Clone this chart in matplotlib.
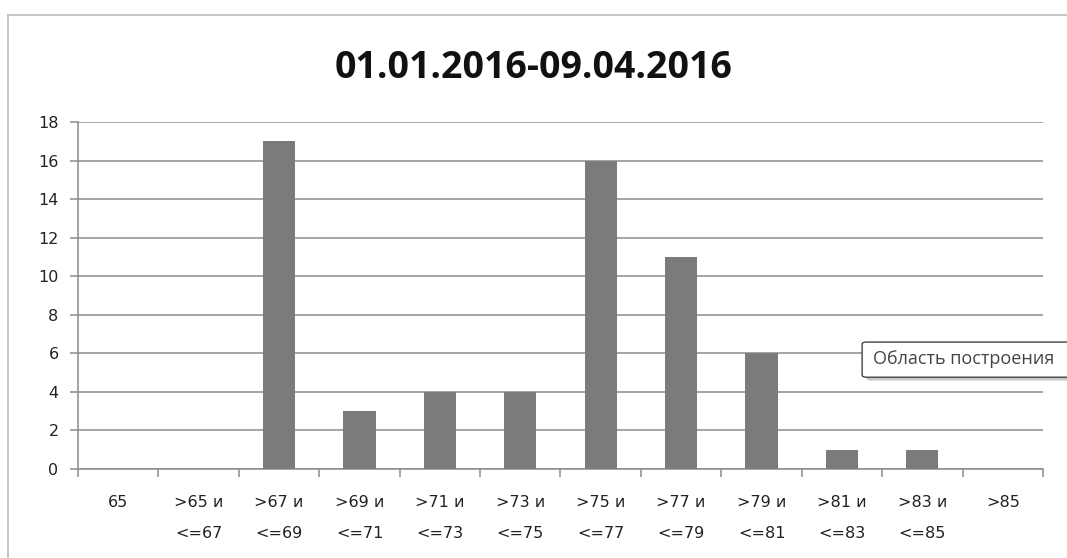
import matplotlib.pyplot as plt
import matplotlib.patches as mpatches
import numpy as np

# data
categories = ["65", ">65 и\n<=67", ">67 и\n<=69", ">69 и\n<=71", ">71 и\n<=73",
              ">73 и\n<=75", ">75 и\n<=77", ">77 и\n<=79", ">79 и\n<=81",
              ">81 и\n<=83", ">83 и\n<=85", ">85"]
counts = [0, 0, 17, 3, 4, 4, 16, 11, 6, 1, 1, 0]
title = "01.01.2016-09.04.2016"

grid_col = "#8c8c8c"

fig = plt.figure(figsize=(10.67, 5.58), dpi=100)
ax = fig.add_axes([0.0731, 0.1595, 0.9044, 0.6219])

x = np.arange(len(categories))
ax.bar(x, counts, width=0.4, color="#7b7b7b", zorder=3)

ax.set_xlim(-0.5, len(categories) - 0.5)
ax.set_ylim(0, 18)
ax.set_yticks(range(0, 19, 2))
ax.yaxis.grid(True, color=grid_col, linewidth=1.1, zorder=0)

ax.set_xticks(x)
ax.set_xticklabels(categories, fontsize=11.5, family="DejaVu Sans",
                   linespacing=2.3, color="#222222")
ax.set_xticks(np.arange(-0.5, len(categories)), minor=True)
ax.tick_params(axis="x", which="major", length=0, pad=19)
ax.tick_params(axis="x", which="minor", length=6, color=grid_col, width=1.1)
ax.tick_params(axis="y", length=6, color=grid_col, width=1.1, pad=8,
               labelsize=11.5, labelcolor="#222222")

for s in ["top", "right"]:
    ax.spines[s].set_visible(False)
for s in ["left", "bottom"]:
    ax.spines[s].set_color(grid_col)
    ax.spines[s].set_linewidth(1.1)

fig.text(0.5, 0.878, title, ha="center", va="center", fontsize=27,
         fontweight="bold", family="Open Sans", color="#111111")

# outer chart frame
fig.add_artist(plt.Line2D([0.0075, 1.0], [0.973, 0.973], color="#bdbdbd",
                          linewidth=1.2, transform=fig.transFigure))
fig.add_artist(plt.Line2D([0.0075, 0.0075], [0.0, 0.973], color="#bdbdbd",
                          linewidth=1.2, transform=fig.transFigure))

# tooltip box
shadow = mpatches.FancyBboxPatch((0.812, 0.318), 0.2, 0.06,
                                 boxstyle="round,pad=0,rounding_size=0.004",
                                 transform=fig.transFigure, facecolor="#c8c8c8",
                                 edgecolor="none", zorder=5)
box = mpatches.FancyBboxPatch((0.808, 0.324), 0.2, 0.063,
                              boxstyle="round,pad=0,rounding_size=0.004",
                              transform=fig.transFigure, facecolor="white",
                              edgecolor="#444444", linewidth=1, zorder=6)
fig.add_artist(shadow)
fig.add_artist(box)
fig.text(0.818, 0.356, "Область построения", fontsize=13, family="Open Sans",
         color="#444444", va="center", ha="left", zorder=7)

fig.savefig("out.png", dpi=100)
